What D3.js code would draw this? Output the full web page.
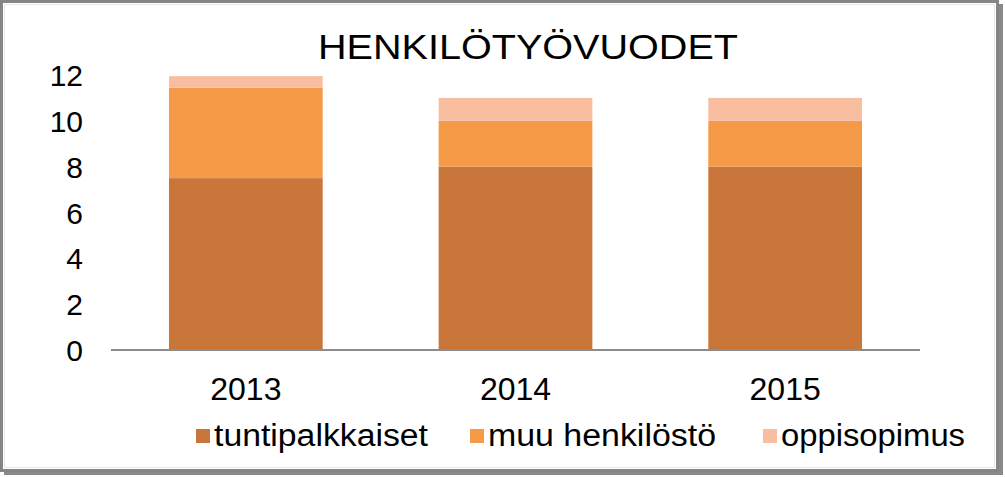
<!DOCTYPE html>
<html>
<head>
<meta charset="utf-8">
<script src="https://cdn.jsdelivr.net/npm/d3@7"></script>
<style>
  html, body { margin: 0; padding: 0; background: #ffffff; }
  svg { display: block; font-family: "Liberation Sans", Arial, sans-serif; }
</style>
</head>
<body>
<svg id="chart" width="1005" height="477"></svg>
<script>
const title = "HENKILÖTYÖVUODET";
const categories = ["2013", "2014", "2015"];
const seriesNames = ["tuntipalkkaiset", "muu henkilöstö", "oppisopimus"];
const tuntipalkkaiset = [7.5, 8.0, 8.0];
const muuHenkilosto = [3.95, 2.0, 2.0];
const oppisopimus = [0.5, 1.0, 1.0];
const yTicks = [0, 2, 4, 6, 8, 10, 12];
const colors = ["#C8763A", "#F59B48", "#F9BEA0"];

const svg = d3.select("#chart");
const W = 1005, H = 477;

// frame with shadow
svg.append("rect").attr("x", 4).attr("y", 4).attr("width", 999).attr("height", 471).attr("fill", "#8a8a8a");
svg.append("rect").attr("x", 1.5).attr("y", 1.5).attr("width", 996).attr("height", 469)
  .attr("fill", "#ffffff").attr("stroke", "#858585").attr("stroke-width", 3);
svg.append("rect").attr("x", 4.5).attr("y", 4.5).attr("width", 990).attr("height", 463)
  .attr("fill", "none").attr("stroke", "#e8e8e8").attr("stroke-width", 1);

const rows = categories.map((c, i) => ({
  cat: c,
  "tuntipalkkaiset": tuntipalkkaiset[i],
  "muu henkilöstö": muuHenkilosto[i],
  "oppisopimus": oppisopimus[i]
}));
const stacked = d3.stack().keys(seriesNames)(rows);

const x = d3.scaleBand().domain(categories).range([111, 920]).paddingInner(0.43).paddingOuter(0.215);
const y = d3.scaleLinear().domain([0, 12]).range([350, 75]);
const color = d3.scaleOrdinal().domain(seriesNames).range(colors);

// bars
svg.append("g").selectAll("g").data(stacked).join("g")
  .attr("fill", d => color(d.key))
  .selectAll("rect").data(d => d).join("rect")
  .attr("x", d => x(d.data.cat))
  .attr("width", x.bandwidth())
  .attr("y", d => y(d[1]))
  .attr("height", d => y(d[0]) - y(d[1]));

// y axis (labels only)
const yAxis = d3.axisLeft(y).tickValues(yTicks).tickSize(0).tickPadding(0);
const yg = svg.append("g").attr("transform", "translate(83,0)").call(yAxis);
yg.select(".domain").remove();
yg.selectAll("text").attr("font-size", 30).attr("fill", "#000").attr("dy", "0.35em")
  .style("font-family", "'Liberation Sans', Arial, sans-serif");

// x axis
const xAxis = d3.axisBottom(x).tickSize(0).tickPadding(0);
const xg = svg.append("g").attr("transform", "translate(0,350)").call(xAxis);
xg.select(".domain").attr("stroke", "#8c8c8c").attr("stroke-width", 2).attr("d", "M111,0H920");
xg.selectAll("text").attr("font-size", 32).attr("fill", "#000").attr("y", 50).attr("dy", 0)
  .style("font-family", "'Liberation Sans', Arial, sans-serif");

// title
svg.append("text").attr("x", 528).attr("y", 59).attr("text-anchor", "middle")
  .attr("font-size", 35).attr("fill", "#000")
  .attr("textLength", 420).attr("lengthAdjust", "spacingAndGlyphs")
  .text(title);

// legend
const legendX = [196, 470, 763];
const legendW = [214, 228, 184];
const lg = svg.append("g");
seriesNames.forEach((s, i) => {
  lg.append("rect").attr("x", legendX[i]).attr("y", 429).attr("width", 14).attr("height", 14).attr("fill", color(s));
  lg.append("text").attr("x", legendX[i] + 18).attr("y", 446).attr("font-size", 31).attr("fill", "#000")
    .attr("textLength", legendW[i]).attr("lengthAdjust", "spacingAndGlyphs")
    .text(s);
});
</script>
</body>
</html>
